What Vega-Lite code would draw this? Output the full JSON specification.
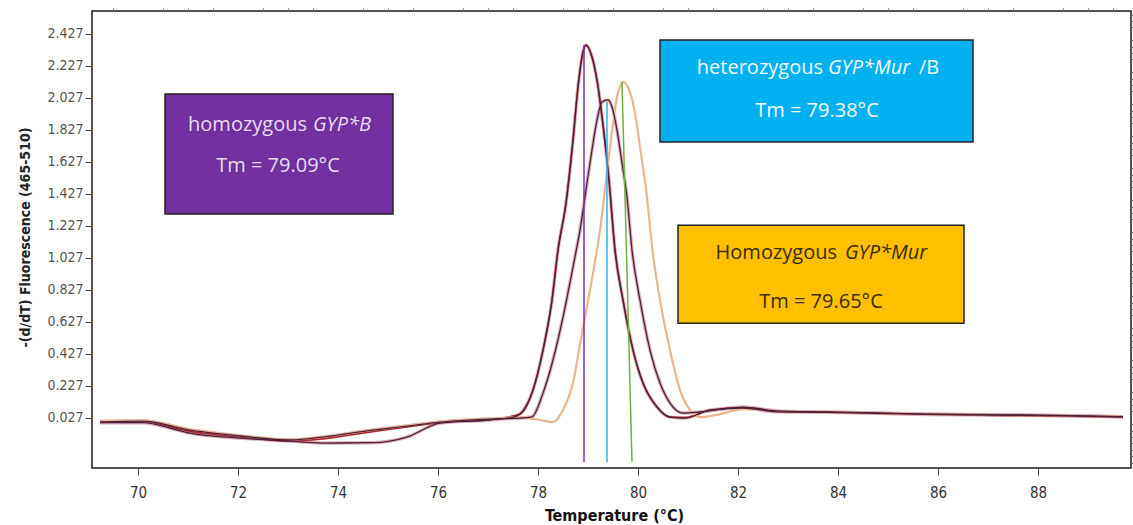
{
  "$schema": "https://vega.github.io/schema/vega-lite/v6.json",
  "width": 1039,
  "height": 457,
  "autosize": {"type": "none"},
  "padding": {"left": 92, "top": 11, "right": 2, "bottom": 57},
  "background": "white",
  "config": {"view": {"stroke": "#1a1a1a", "strokeWidth": 1.5}},
  "datasets": {
    "curves": [
      {"s":"A","t":69.24,"v":-0.004},{"s":"A","t":70.10,"v":-0.004},{"s":"A","t":70.64,"v":-0.037},{"s":"A","t":71.04,"v":-0.069},{"s":"A","t":72.04,"v":-0.100},{"s":"A","t":73.04,"v":-0.119},{"s":"A","t":73.70,"v":-0.131},{"s":"A","t":74.70,"v":-0.129},{"s":"A","t":75.38,"v":-0.094},{"s":"A","t":76.04,"v":-0.006},{"s":"A","t":77.04,"v":0.013},{"s":"A","t":77.50,"v":0.030},{"s":"A","t":77.64,"v":0.050},{"s":"A","t":77.90,"v":0.200},{"s":"A","t":78.10,"v":0.450},{"s":"A","t":78.28,"v":0.762},{"s":"A","t":78.40,"v":1.075},{"s":"A","t":78.56,"v":1.368},{"s":"A","t":78.70,"v":1.762},{"s":"A","t":78.80,"v":2.094},{"s":"A","t":78.90,"v":2.313},{"s":"A","t":78.96,"v":2.356},{"s":"A","t":79.08,"v":2.281},{"s":"A","t":79.18,"v":2.137},{"s":"A","t":79.30,"v":1.857},{"s":"A","t":79.42,"v":1.512},{"s":"A","t":79.54,"v":1.075},{"s":"A","t":79.70,"v":0.762},{"s":"A","t":79.90,"v":0.450},{"s":"A","t":80.10,"v":0.244},{"s":"A","t":80.38,"v":0.094},{"s":"A","t":80.64,"v":0.031},{"s":"A","t":80.94,"v":0.025},{"s":"A","t":81.44,"v":0.075},{"s":"A","t":82.10,"v":0.088},{"s":"A","t":82.78,"v":0.064},{"s":"A","t":83.78,"v":0.061},{"s":"A","t":84.78,"v":0.055},{"s":"A","t":85.78,"v":0.048},{"s":"A","t":87.10,"v":0.044},{"s":"A","t":88.44,"v":0.040},{"s":"A","t":89.70,"v":0.033},

      {"s":"R","t":69.24,"v":0.003},{"s":"R","t":70.10,"v":0.003},{"s":"R","t":71.04,"v":-0.058},{"s":"R","t":72.04,"v":-0.093},{"s":"R","t":73.04,"v":-0.118},{"s":"R","t":73.70,"v":-0.105},{"s":"R","t":74.70,"v":-0.060},{"s":"R","t":75.38,"v":-0.030},{"s":"R","t":76.04,"v":-0.002},{"s":"R","t":77.04,"v":0.016},{"s":"R","t":77.64,"v":0.050},{"s":"R","t":77.90,"v":0.200},{"s":"R","t":78.10,"v":0.450},{"s":"R","t":78.28,"v":0.762},{"s":"R","t":78.40,"v":1.075},{"s":"R","t":78.56,"v":1.368},{"s":"R","t":78.70,"v":1.762},{"s":"R","t":78.80,"v":2.094},{"s":"R","t":78.90,"v":2.313},{"s":"R","t":78.96,"v":2.356},{"s":"R","t":79.08,"v":2.281},{"s":"R","t":79.18,"v":2.137},{"s":"R","t":79.30,"v":1.857},{"s":"R","t":79.42,"v":1.512},{"s":"R","t":79.54,"v":1.075},{"s":"R","t":79.70,"v":0.762},{"s":"R","t":79.90,"v":0.450},{"s":"R","t":80.10,"v":0.244},{"s":"R","t":80.38,"v":0.094},{"s":"R","t":80.64,"v":0.031},{"s":"R","t":80.94,"v":0.028},{"s":"R","t":81.44,"v":0.075},{"s":"R","t":82.10,"v":0.090},{"s":"R","t":82.78,"v":0.066},{"s":"R","t":83.78,"v":0.062},{"s":"R","t":84.78,"v":0.054},{"s":"R","t":85.78,"v":0.049},{"s":"R","t":87.10,"v":0.042},{"s":"R","t":88.44,"v":0.038},{"s":"R","t":89.70,"v":0.030},

      {"s":"B","t":69.24,"v":0.000},{"s":"B","t":70.10,"v":0.006},{"s":"B","t":71.04,"v":-0.050},{"s":"B","t":72.04,"v":-0.087},{"s":"B","t":73.04,"v":-0.112},{"s":"B","t":73.70,"v":-0.094},{"s":"B","t":74.70,"v":-0.050},{"s":"B","t":75.38,"v":-0.025},{"s":"B","t":76.04,"v":0.000},{"s":"B","t":77.04,"v":0.019},{"s":"B","t":77.64,"v":0.025},{"s":"B","t":77.88,"v":0.033},{"s":"B","t":78.10,"v":0.181},{"s":"B","t":78.30,"v":0.388},{"s":"B","t":78.50,"v":0.656},{"s":"B","t":78.70,"v":0.969},{"s":"B","t":78.84,"v":1.200},{"s":"B","t":79.04,"v":1.619},{"s":"B","t":79.18,"v":1.887},{"s":"B","t":79.28,"v":2.000},{"s":"B","t":79.40,"v":2.013},{"s":"B","t":79.48,"v":1.969},{"s":"B","t":79.58,"v":1.825},{"s":"B","t":79.68,"v":1.619},{"s":"B","t":79.78,"v":1.406},{"s":"B","t":79.88,"v":1.075},{"s":"B","t":80.04,"v":0.762},{"s":"B","t":80.24,"v":0.450},{"s":"B","t":80.44,"v":0.244},{"s":"B","t":80.64,"v":0.119},{"s":"B","t":80.90,"v":0.056},{"s":"B","t":81.24,"v":0.063},{"s":"B","t":82.10,"v":0.094},{"s":"B","t":82.78,"v":0.070},{"s":"B","t":83.78,"v":0.063},{"s":"B","t":84.78,"v":0.057},{"s":"B","t":85.78,"v":0.050},{"s":"B","t":87.10,"v":0.046},{"s":"B","t":88.44,"v":0.041},{"s":"B","t":89.70,"v":0.034},

      {"s":"C","t":69.24,"v":0.010},{"s":"C","t":70.10,"v":0.010},{"s":"C","t":71.04,"v":-0.045},{"s":"C","t":72.04,"v":-0.085},{"s":"C","t":73.04,"v":-0.110},{"s":"C","t":73.70,"v":-0.092},{"s":"C","t":74.70,"v":-0.048},{"s":"C","t":75.38,"v":-0.022},{"s":"C","t":76.04,"v":0.003},{"s":"C","t":77.04,"v":0.020},{"s":"C","t":77.64,"v":0.030},{"s":"C","t":78.04,"v":0.013},{"s":"C","t":78.30,"v":0.000},{"s":"C","t":78.50,"v":0.075},{"s":"C","t":78.70,"v":0.244},{"s":"C","t":78.88,"v":0.556},{"s":"C","t":79.04,"v":0.825},{"s":"C","t":79.24,"v":1.200},{"s":"C","t":79.44,"v":1.719},{"s":"C","t":79.58,"v":2.031},{"s":"C","t":79.70,"v":2.124},{"s":"C","t":79.80,"v":2.093},{"s":"C","t":79.94,"v":1.931},{"s":"C","t":80.04,"v":1.719},{"s":"C","t":80.18,"v":1.406},{"s":"C","t":80.28,"v":1.100},{"s":"C","t":80.44,"v":0.762},{"s":"C","t":80.64,"v":0.450},{"s":"C","t":80.84,"v":0.200},{"s":"C","t":81.04,"v":0.075},{"s":"C","t":81.24,"v":0.031},{"s":"C","t":81.64,"v":0.050},{"s":"C","t":82.10,"v":0.081},{"s":"C","t":82.78,"v":0.068},{"s":"C","t":83.78,"v":0.060},{"s":"C","t":84.78,"v":0.056},{"s":"C","t":85.78,"v":0.049},{"s":"C","t":87.10,"v":0.045},{"s":"C","t":88.44,"v":0.041},{"s":"C","t":89.70,"v":0.035}
    ],
    "boxes": [
      {"box":"B","x":70.54,"x2":75.10,"y":2.050,"y2":1.300},
      {"box":"MurB","x":80.44,"x2":86.70,"y":2.388,"y2":1.750},
      {"box":"Mur","x":80.80,"x2":86.52,"y":1.230,"y2":0.618}
    ],
    "tm": [
      {"box":"B","x":78.92,"x2":78.92,"y":2.356,"y2":-0.250},
      {"box":"MurB","x":79.38,"x2":79.38,"y":2.001,"y2":-0.250},
      {"box":"Mur","x":79.68,"x2":79.88,"y":2.124,"y2":-0.250}
    ],
    "labels": [
      {"box":"B","part":"lead","x":73.38,"y":1.856,"text":"homozygous"},
      {"box":"B","part":"allele","x":73.50,"y":1.856,"text":"GYP*B"},
      {"box":"B","part":"tm","x":72.80,"y":1.600,"text":"Tm = 79.09°C"},
      {"box":"MurB","part":"lead","x":83.70,"y":2.213,"text":"heterozygous"},
      {"box":"MurB","part":"allele","x":83.80,"y":2.213,"text":"GYP*Mur"},
      {"box":"MurB","part":"suffix","x":85.62,"y":2.213,"text":"/B"},
      {"box":"MurB","part":"tm","x":83.58,"y":1.944,"text":"Tm = 79.38°C"},
      {"box":"Mur","part":"lead","x":83.98,"y":1.056,"text":"Homozygous"},
      {"box":"Mur","part":"allele","x":84.14,"y":1.056,"text":"GYP*Mur"},
      {"box":"Mur","part":"tm","x":83.66,"y":0.750,"text":"Tm = 79.65°C"}
    ]
  },
  "layer": [
    {
      "data": {"name": "curves"},
      "transform": [{"filter": "datum.s === 'A' || datum.s === 'B'"}],
      "mark": {"type": "line", "color": "#dcb0b8", "strokeWidth": 3.5, "interpolate": "monotone"},
      "encoding": {
        "x": {"field": "t", "type": "quantitative", "scale": {"domain": [69.08, 89.86], "nice": false, "zero": false},
          "axis": {"values": [70,72,74,76,78,80,82,84,86,88], "format": "d", "grid": false, "domain": false,
            "tickSize": 7, "tickColor": "#444", "labelColor": "#333", "labelFont": "Liberation Sans Narrow, DejaVu Sans Condensed, Arial", "labelFontSize": 15, "labelPadding": 10,
            "title": "Temperature (°C)", "titleFont": "Liberation Sans Narrow, DejaVu Sans Condensed, Arial", "titleFontSize": 16, "titleFontWeight": "bold", "titleColor": "#111",
            "titleX": 522, "titleY": 47, "titleBaseline": "middle"}},
        "y": {"field": "v", "type": "quantitative", "scale": {"domain": [-0.287, 2.569], "nice": false, "zero": false},
          "axis": {"values": [0.027,0.227,0.427,0.627,0.827,1.027,1.227,1.427,1.627,1.827,2.027,2.227,2.427], "format": ".3f", "grid": false, "domain": false,
            "tickSize": 7, "tickColor": "#444", "labelColor": "#555", "labelFont": "Liberation Sans Narrow, DejaVu Sans Condensed, Arial", "labelFontSize": 14, "labelPadding": 2,
            "title": "-(d/dT) Fluorescence (465-510)", "titleFont": "Liberation Sans Narrow, DejaVu Sans Condensed, Arial", "titleFontSize": 14, "titleFontWeight": "bold", "titleColor": "#222",
            "titleX": -67, "titleY": 226, "titleAngle": -90, "titleAlign": "center", "titleBaseline": "middle"}},
        "detail": {"field": "s"}
      }
    },
    {
      "data": {"name": "curves"},
      "transform": [{"filter": "datum.s === 'R'"}],
      "mark": {"type": "line", "color": "#b3282c", "strokeWidth": 1.6, "interpolate": "monotone"},
      "encoding": {
        "x": {"field": "t", "type": "quantitative",
          "axis": {"values": [69.5,70.5,71,71.5,72.5,73,73.5,74.5,75,75.5,76.5,77,77.5,78.5,79,79.5,80.5,81,81.5,82.5,83,83.5,84.5,85,85.5,86.5,87,87.5,88.5,89,89.5], "labels": false, "grid": false, "domain": false, "tickSize": 3, "tickColor": "#777", "title": null}},
        "y": {"field": "v", "type": "quantitative",
          "axis": {"values": [-0.253,-0.213,-0.173,-0.133,-0.093,-0.053,-0.013,0.067,0.107,0.147,0.187,0.267,0.307,0.347,0.387,0.467,0.507,0.547,0.587,0.667,0.707,0.747,0.787,0.867,0.907,0.947,0.987,1.067,1.107,1.147,1.187,1.267,1.307,1.347,1.387,1.467,1.507,1.547,1.587,1.667,1.707,1.747,1.787,1.867,1.907,1.947,1.987,2.067,2.107,2.147,2.187,2.267,2.307,2.347,2.387,2.467,2.507,2.547], "labels": false, "grid": false, "domain": false, "tickSize": 3, "tickColor": "#777", "title": null}}
      }
    },
    {
      "data": {"name": "curves"},
      "transform": [{"filter": "datum.s === 'C'"}],
      "mark": {"type": "line", "color": "#ebb48e", "strokeWidth": 2.2, "interpolate": "monotone"},
      "encoding": {
        "x": {"field": "t", "type": "quantitative", "axis": null},
        "y": {"field": "v", "type": "quantitative", "axis": null}
      }
    },
    {
      "data": {"name": "curves"},
      "transform": [{"filter": "datum.s === 'A' || datum.s === 'B'"}],
      "mark": {"type": "line", "color": "#4a1f3c", "strokeWidth": 1.3, "interpolate": "monotone"},
      "encoding": {
        "x": {"field": "t", "type": "quantitative", "axis": null},
        "y": {"field": "v", "type": "quantitative", "axis": null},
        "detail": {"field": "s"}
      }
    },
    {
      "data": {"name": "tm"},
      "mark": {"type": "rule", "strokeWidth": 1.5},
      "encoding": {
        "x": {"field": "x", "type": "quantitative", "axis": null},
        "x2": {"field": "x2"},
        "y": {"field": "y", "type": "quantitative", "axis": null},
        "y2": {"field": "y2"},
        "color": {"field": "box", "type": "nominal", "legend": null, "scale": {"domain": ["B","MurB","Mur"], "range": ["#7a2fc0","#29b6ec","#6cb33f"]}}
      }
    },
    {
      "data": {"name": "boxes"},
      "mark": {"type": "rect", "stroke": "#222", "strokeWidth": 1.5},
      "encoding": {
        "x": {"field": "x", "type": "quantitative", "axis": null},
        "x2": {"field": "x2"},
        "y": {"field": "y", "type": "quantitative", "axis": null},
        "y2": {"field": "y2"},
        "fill": {"field": "box", "type": "nominal", "legend": null, "scale": {"domain": ["B","MurB","Mur"], "range": ["#7030a0","#00b0f0","#ffc000"]}}
      }
    },
    {
      "data": {"name": "labels"},
      "transform": [{"filter": "datum.part === 'lead'"}],
      "mark": {"type": "text", "align": "right", "baseline": "middle", "font": "Open Sans", "fontSize": 20},
      "encoding": {
        "x": {"field": "x", "type": "quantitative", "axis": null},
        "y": {"field": "y", "type": "quantitative", "axis": null},
        "text": {"field": "text"},
        "color": {"field": "box", "type": "nominal", "legend": null, "scale": {"domain": ["B","MurB","Mur"], "range": ["#e6dcf0","#f4fbff","#3a2c05"]}}
      }
    },
    {
      "data": {"name": "labels"},
      "transform": [{"filter": "datum.part === 'allele'"}],
      "mark": {"type": "text", "align": "left", "baseline": "middle", "font": "Open Sans", "fontSize": 20, "fontStyle": "italic"},
      "encoding": {
        "x": {"field": "x", "type": "quantitative", "axis": null},
        "y": {"field": "y", "type": "quantitative", "axis": null},
        "text": {"field": "text"},
        "color": {"field": "box", "type": "nominal", "legend": null, "scale": {"domain": ["B","MurB","Mur"], "range": ["#e6dcf0","#f4fbff","#3a2c05"]}}
      }
    },
    {
      "data": {"name": "labels"},
      "transform": [{"filter": "datum.part === 'suffix'"}],
      "mark": {"type": "text", "align": "left", "baseline": "middle", "font": "Open Sans", "fontSize": 20},
      "encoding": {
        "x": {"field": "x", "type": "quantitative", "axis": null},
        "y": {"field": "y", "type": "quantitative", "axis": null},
        "text": {"field": "text"},
        "color": {"field": "box", "type": "nominal", "legend": null, "scale": {"domain": ["B","MurB","Mur"], "range": ["#e6dcf0","#f4fbff","#3a2c05"]}}
      }
    },
    {
      "data": {"name": "labels"},
      "transform": [{"filter": "datum.part === 'tm'"}],
      "mark": {"type": "text", "align": "center", "baseline": "middle", "font": "Open Sans", "fontSize": 20},
      "encoding": {
        "x": {"field": "x", "type": "quantitative", "axis": null},
        "y": {"field": "y", "type": "quantitative", "axis": null},
        "text": {"field": "text"},
        "color": {"field": "box", "type": "nominal", "legend": null, "scale": {"domain": ["B","MurB","Mur"], "range": ["#e6dcf0","#f4fbff","#3a2c05"]}}
      }
    }
  ],
  "resolve": {"axis": {"x": "independent", "y": "independent"}, "scale": {"color": "independent", "fill": "independent"}}
}
